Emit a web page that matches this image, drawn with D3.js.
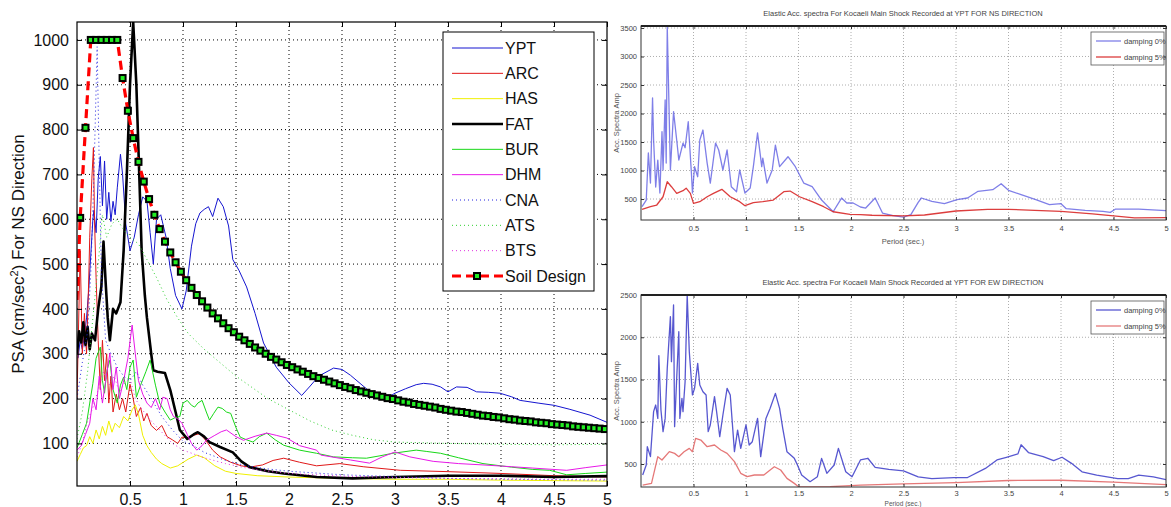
<!DOCTYPE html>
<html>
<head>
<meta charset="utf-8">
<script src="https://cdn.jsdelivr.net/npm/d3@7"></script>
<style>
  body { margin: 0; background: #fff; }
  svg { display: block; font-family: "Liberation Sans", Arial, sans-serif; }
</style>
</head>
<body>
<div id="chart"></div>
<script>
// ---- datos: espectro NS por estacion [periodo (s), PSA] ----
var yptNS = [[0.01,290],[0.03,330],[0.05,310],[0.07,340],[0.09,380],[0.11,440],[0.13,520],[0.15,600],[0.16,620],[0.18,570],[0.2,690],[0.22,740],[0.24,630],[0.26,730],[0.28,600],[0.3,660],[0.32,595],[0.34,640],[0.36,610],[0.38,670],[0.41,745],[0.43,700],[0.46,590],[0.5,530],[0.54,560],[0.58,610],[0.62,650],[0.66,640],[0.69,570],[0.72,500],[0.75,600],[0.79,610],[0.84,560],[0.88,490],[0.93,430],[0.99,400],[1.03,440],[1.08,540],[1.12,590],[1.16,614],[1.2,622],[1.24,628],[1.28,606],[1.33,647],[1.38,628],[1.43,585],[1.47,510],[1.53,485],[1.6,449],[1.68,390],[1.76,324],[1.88,270],[2.0,235],[2.12,207],[2.2,228],[2.28,250],[2.42,268],[2.5,265],[2.58,252],[2.67,234],[2.78,212],[2.86,201],[2.95,205],[3.0,212],[3.1,222],[3.2,231],[3.27,234],[3.35,232],[3.43,226],[3.5,215],[3.58,226],[3.68,225],[3.77,215],[3.88,214],[3.99,212],[4.1,204],[4.18,196],[4.35,190],[4.5,185],[4.65,176],[4.84,163],[5.0,147]];
var arcNS = [[0.0,200],[0.02,420],[0.03,530],[0.05,300],[0.07,390],[0.09,300],[0.11,460],[0.12,560],[0.14,690],[0.155,760],[0.165,600],[0.18,470],[0.2,330],[0.22,220],[0.24,330],[0.26,240],[0.28,300],[0.3,190],[0.32,250],[0.34,170],[0.37,210],[0.4,175],[0.43,200],[0.46,170],[0.5,232],[0.53,200],[0.56,160],[0.6,180],[0.63,150],[0.66,167],[0.7,140],[0.75,129],[0.8,140],[0.85,115],[0.9,108],[0.95,100],[0.99,114],[1.05,112],[1.1,118],[1.16,122],[1.22,105],[1.28,85],[1.35,70],[1.45,58],[1.55,50],[1.63,47],[1.75,52],[1.85,62],[1.95,67],[2.1,58],[2.26,50],[2.48,55],[2.7,48],[3.05,40],[3.5,37],[4.0,33],[4.5,28],[5.0,25]];
var hasNS = [[0.0,60],[0.03,75],[0.06,90],[0.09,95],[0.12,115],[0.15,100],[0.18,130],[0.21,110],[0.24,138],[0.27,118],[0.3,150],[0.33,125],[0.36,145],[0.4,135],[0.44,160],[0.48,150],[0.52,175],[0.55,186],[0.58,165],[0.62,118],[0.66,95],[0.7,80],[0.75,65],[0.8,55],[0.88,45],[0.95,50],[1.05,65],[1.13,74],[1.2,68],[1.3,50],[1.4,38],[1.5,33],[1.7,28],[2.0,25],[2.5,22],[3.0,20],[3.5,20],[4.0,18],[4.5,17],[5.0,16]];
var fatNS = [[0.0,300],[0.02,350],[0.04,325],[0.06,370],[0.08,320],[0.1,360],[0.12,310],[0.14,345],[0.17,330],[0.2,400],[0.23,450],[0.25,550],[0.27,460],[0.29,380],[0.31,330],[0.34,400],[0.37,390],[0.41,415],[0.44,530],[0.47,700],[0.5,900],[0.53,1040],[0.56,900],[0.59,680],[0.61,530],[0.64,430],[0.66,380],[0.7,300],[0.72,263],[0.76,260],[0.83,257],[0.88,219],[0.93,170],[0.97,130],[1.04,110],[1.1,120],[1.14,125],[1.2,115],[1.25,103],[1.35,92],[1.47,80],[1.55,60],[1.63,47],[1.8,38],[1.95,33],[2.26,25],[2.6,22],[3.0,25],[3.5,28],[4.0,28],[4.5,25],[5.0,27]];
var burNS = [[0.0,90],[0.05,120],[0.09,145],[0.12,190],[0.15,234],[0.18,290],[0.22,315],[0.24,240],[0.26,212],[0.28,260],[0.31,286],[0.34,220],[0.38,190],[0.41,230],[0.44,248],[0.47,220],[0.5,270],[0.53,286],[0.56,203],[0.6,230],[0.65,260],[0.69,286],[0.74,230],[0.78,190],[0.83,170],[0.88,152],[0.93,158],[0.97,160],[1.0,190],[1.04,196],[1.08,185],[1.11,181],[1.14,190],[1.18,196],[1.22,170],[1.25,152],[1.29,167],[1.33,181],[1.37,178],[1.41,170],[1.45,167],[1.5,135],[1.54,114],[1.6,108],[1.66,103],[1.72,115],[1.79,123],[1.87,108],[1.95,96],[2.1,85],[2.26,78],[2.42,70],[2.6,68],[2.73,67],[2.85,72],[2.98,78],[3.2,85],[3.3,82],[3.43,78],[3.6,68],[3.83,55],[4.1,47],[4.3,42],[4.46,40],[4.62,30],[4.8,33],[5.0,36]];
var dhmNS = [[0.0,85],[0.04,95],[0.08,120],[0.12,145],[0.15,200],[0.18,175],[0.21,250],[0.24,190],[0.27,240],[0.31,301],[0.34,220],[0.37,270],[0.4,200],[0.44,240],[0.48,290],[0.52,364],[0.55,300],[0.58,240],[0.62,210],[0.66,190],[0.7,180],[0.74,200],[0.78,175],[0.81,203],[0.85,200],[0.88,175],[0.91,160],[0.95,155],[0.99,145],[1.04,120],[1.08,100],[1.13,85],[1.18,95],[1.22,107],[1.3,118],[1.36,126],[1.41,130],[1.5,115],[1.57,107],[1.68,116],[1.79,123],[1.88,118],[1.98,112],[2.1,95],[2.26,85],[2.3,74],[2.45,68],[2.58,63],[2.76,56],[2.88,70],[3.0,81],[3.14,70],[3.36,60],[3.6,55],[3.83,52],[4.1,48],[4.3,45],[4.62,40],[4.8,46],[5.0,52]];
var cnaNS = [[0.0,200],[0.05,280],[0.1,350],[0.13,480],[0.16,700],[0.19,985],[0.21,720],[0.23,480],[0.27,330],[0.32,300],[0.38,270],[0.44,250],[0.5,240],[0.56,260],[0.62,230],[0.7,200],[0.8,160],[0.9,130],[1.0,105],[1.1,95],[1.2,80],[1.4,62],[1.6,50],[1.8,43],[2.0,38],[2.5,30],[3.0,26],[3.5,22],[4.0,20],[4.5,19],[5.0,18]];
var atsNS = [[0.0,110],[0.05,170],[0.1,260],[0.15,380],[0.2,500],[0.24,610],[0.28,560],[0.33,590],[0.38,600],[0.43,580],[0.5,560],[0.58,545],[0.66,510],[0.75,470],[0.85,420],[0.95,380],[1.05,345],[1.2,310],[1.35,280],[1.5,250],[1.65,225],[1.8,200],[2.0,175],[2.2,150],[2.4,130],[2.6,118],[2.8,108],[3.0,103],[3.5,100],[4.0,98],[4.5,97],[5.0,98]];
var btsNS = [[0.0,70],[0.05,100],[0.1,150],[0.15,180],[0.2,220],[0.25,260],[0.3,230],[0.35,250],[0.4,215],[0.45,235],[0.5,245],[0.55,200],[0.6,180],[0.7,150],[0.8,125],[0.9,100],[1.0,85],[1.2,68],[1.4,55],[1.6,45],[1.8,38],[2.0,33],[2.5,27],[3.0,24],[3.5,22],[4.0,21],[4.5,20],[5.0,20]];
// espectro de diseno (suelo)
var soilDesign = [[0,420],[0.03,603],[0.08,804],[0.13,1000],[0.18,1000],[0.23,1000],[0.28,1000],[0.33,1000],[0.38,1000],[0.43,915],[0.48,842],[0.53,781],[0.58,728],[0.63,684],[0.68,645],[0.73,610],[0.78,578],[0.83,550],[0.88,526],[0.93,504],[0.98,483],[1.03,464],[1.08,447],[1.13,431],[1.18,417],[1.23,403],[1.28,390],[1.33,379],[1.38,368],[1.43,357],[1.48,348],[1.53,338],[1.58,330],[1.63,322],[1.68,314],[1.73,307],[1.78,300],[1.83,293],[1.88,287],[1.93,281],[1.98,275],[2.03,270],[2.08,265],[2.13,260],[2.18,255],[2.23,250],[2.28,246],[2.33,242],[2.38,238],[2.43,234],[2.48,230],[2.53,226],[2.58,223],[2.63,219],[2.68,216],[2.73,213],[2.78,210],[2.83,207],[2.88,204],[2.93,201],[2.98,199],[3.03,196],[3.08,193],[3.13,191],[3.18,188],[3.23,186],[3.28,184],[3.33,182],[3.38,180],[3.43,177],[3.48,175],[3.53,173],[3.58,171],[3.63,170],[3.68,168],[3.73,166],[3.78,164],[3.83,162],[3.88,161],[3.93,159],[3.98,158],[4.03,156],[4.08,154],[4.13,153],[4.18,151],[4.23,150],[4.28,149],[4.33,147],[4.38,146],[4.43,145],[4.48,143],[4.53,142],[4.58,141],[4.63,140],[4.68,138],[4.73,137],[4.78,136],[4.83,135],[4.88,134],[4.93,133],[4.98,132]];

// ---- datos: YPT, amortiguamiento 0% y 5% ----
var ypt0NS = [[0.01,365],[0.05,482],[0.07,1307],[0.09,780],[0.11,2272],[0.12,1535],[0.14,710],[0.16,1184],[0.18,605],[0.2,1680],[0.21,1009],[0.23,2237],[0.24,1131],[0.25,3523],[0.28,1009],[0.31,2032],[0.34,1535],[0.36,1184],[0.4,1482],[0.42,1400],[0.45,1856],[0.48,956],[0.49,605],[0.51,1067],[0.54,891],[0.56,1535],[0.59,1710],[0.63,1131],[0.66,780],[0.71,1482],[0.74,1360],[0.78,1009],[0.82,1360],[0.86,716],[0.91,628],[0.94,1009],[0.99,605],[1.04,693],[1.07,1067],[1.11,1658],[1.15,1067],[1.16,1219],[1.2,780],[1.25,1010],[1.28,1447],[1.32,1067],[1.4,1242],[1.47,1067],[1.55,780],[1.63,716],[1.72,482],[1.83,277],[1.91,517],[1.96,430],[2.02,430],[2.09,360],[2.14,342],[2.23,518],[2.3,254],[2.4,207],[2.5,184],[2.57,225],[2.64,442],[2.67,518],[2.77,460],[2.89,418],[3.01,488],[3.11,518],[3.21,635],[3.35,664],[3.43,769],[3.5,652],[3.62,576],[3.76,488],[3.89,400],[4.0,418],[4.05,330],[4.23,301],[4.4,283],[4.47,266],[4.52,324],[4.74,324],[5.0,295]];
var ypt5NS = [[0.01,319],[0.09,365],[0.15,395],[0.21,540],[0.25,803],[0.29,716],[0.34,600],[0.4,646],[0.43,690],[0.47,600],[0.5,424],[0.56,453],[0.63,540],[0.69,600],[0.77,670],[0.85,540],[0.94,453],[0.99,383],[1.07,436],[1.16,453],[1.26,482],[1.36,628],[1.42,640],[1.51,540],[1.63,453],[1.74,365],[1.83,277],[1.99,231],[2.09,225],[2.2,215],[2.5,205],[2.7,220],[3.0,290],[3.3,320],[3.5,320],[3.75,300],[4.0,282],[4.3,240],[4.5,205],[4.7,170],[5.0,175]];
var ypt0EW = [[0.016,370],[0.05,488],[0.06,705],[0.09,587],[0.12,1120],[0.14,1198],[0.16,1040],[0.17,1782],[0.19,1139],[0.21,883],[0.23,1040],[0.25,1632],[0.28,2244],[0.29,1711],[0.31,2382],[0.32,942],[0.34,1514],[0.36,2066],[0.37,1040],[0.39,1277],[0.4,1119],[0.42,1474],[0.44,2500],[0.46,1829],[0.49,1317],[0.51,1395],[0.54,1691],[0.56,1435],[0.59,1356],[0.62,1317],[0.64,883],[0.66,962],[0.7,1297],[0.72,1119],[0.75,823],[0.78,1080],[0.82,1395],[0.85,1317],[0.89,646],[0.92,902],[0.95,685],[1.0,962],[1.03,725],[1.06,764],[1.11,1040],[1.14,587],[1.19,1040],[1.23,1159],[1.28,1336],[1.32,1159],[1.35,922],[1.39,646],[1.46,567],[1.49,488],[1.53,370],[1.61,291],[1.68,350],[1.72,567],[1.77,390],[1.84,488],[1.88,685],[1.95,409],[2.01,350],[2.09,548],[2.16,568],[2.23,460],[2.36,436],[2.5,420],[2.64,348],[2.77,328],[2.98,340],[3.11,340],[3.28,448],[3.39,548],[3.48,580],[3.59,620],[3.62,728],[3.69,636],[3.83,588],[3.93,540],[4.01,580],[4.1,508],[4.2,408],[4.34,368],[4.54,328],[4.64,328],[4.74,368],[4.88,348],[5.0,316]];
var ypt5EW = [[0.016,250],[0.1,271],[0.16,587],[0.2,547],[0.27,646],[0.32,626],[0.36,587],[0.41,646],[0.46,685],[0.49,646],[0.52,804],[0.57,784],[0.63,705],[0.7,725],[0.76,666],[0.82,626],[0.89,528],[0.95,390],[1.01,350],[1.08,370],[1.17,370],[1.23,429],[1.27,468],[1.33,429],[1.39,330],[1.46,271],[1.5,232],[1.55,230],[1.8,232],[2.09,250],[2.5,265],[3.0,280],[3.5,305],[4.0,308],[4.5,285],[5.0,255]];

var periodTicks = [0.5, 1, 1.5, 2, 2.5, 3, 3.5, 4, 4.5, 5];
var psaTicks = [100, 200, 300, 400, 500, 600, 700, 800, 900, 1000];
var ampTicksNS = [500, 1000, 1500, 2000, 2500, 3000, 3500];
var ampTicksEW = [500, 1000, 1500, 2000, 2500];

var stations = [
  {name: "YPT", data: yptNS, color: "#1515d0", width: 1, dash: null},
  {name: "ARC", data: arcNS, color: "#e01818", width: 1, dash: null},
  {name: "HAS", data: hasNS, color: "#f0f000", width: 1, dash: null},
  {name: "FAT", data: fatNS, color: "#000000", width: 2.6, dash: null},
  {name: "BUR", data: burNS, color: "#18d818", width: 1, dash: null},
  {name: "DHM", data: dhmNS, color: "#e818e8", width: 1, dash: null},
  {name: "CNA", data: cnaNS, color: "#2020e0", width: 1, dash: "1,3"},
  {name: "ATS", data: atsNS, color: "#30d030", width: 1, dash: "1,3"},
  {name: "BTS", data: btsNS, color: "#e030e0", width: 1, dash: "1,3"}
];

var fmtInt = d3.format("d");

var svg = d3.select("#chart").append("svg")
  .attr("width", 1171)
  .attr("height", 507);

/* ---------- grafica izquierda ---------- */
var L = {x0: 77, x1: 607, y0: 22, y1: 486};
var xL = d3.scaleLinear().domain([0, 5]).range([L.x0, L.x1]);
var yL = d3.scaleLinear().domain([5, 1040]).range([L.y1, L.y0]);

svg.append("clipPath").attr("id", "clipL")
  .append("rect").attr("x", L.x0).attr("y", L.y0)
  .attr("width", L.x1 - L.x0).attr("height", L.y1 - L.y0);

var gl = svg.append("g");

// rejilla punteada
gl.append("g").selectAll("line")
  .data(periodTicks.slice(0, -1)).enter().append("line")
  .attr("x1", d => xL(d)).attr("x2", d => xL(d))
  .attr("y1", L.y0).attr("y2", L.y1)
  .attr("stroke", "#000").attr("stroke-dasharray", "1,3").attr("stroke-width", 1);
gl.append("g").selectAll("line")
  .data(psaTicks).enter().append("line")
  .attr("x1", L.x0).attr("x2", L.x1)
  .attr("y1", d => yL(d)).attr("y2", d => yL(d))
  .attr("stroke", "#000").attr("stroke-dasharray", "1,3").attr("stroke-width", 1);

var lineL = d3.line().x(d => xL(d[0])).y(d => yL(d[1]));

var lines = gl.append("g").attr("clip-path", "url(#clipL)");
lines.selectAll("path")
  .data(stations).enter().append("path")
  .attr("d", d => lineL(d.data))
  .attr("fill", "none")
  .attr("stroke", d => d.color)
  .attr("stroke-width", d => d.width)
  .attr("stroke-dasharray", d => d.dash)
  .attr("stroke-linejoin", "round");

// espectro de diseno
lines.append("path")
  .attr("d", lineL(soilDesign))
  .attr("fill", "none")
  .attr("stroke", "#ff0000")
  .attr("stroke-width", 3.2)
  .attr("stroke-dasharray", "9,5");
lines.append("g").selectAll("rect")
  .data(soilDesign.slice(1)).enter().append("rect")
  .attr("x", d => xL(d[0]) - 3).attr("y", d => yL(d[1]) - 3)
  .attr("width", 6).attr("height", 6)
  .attr("fill", "#22ee22").attr("stroke", "#000").attr("stroke-width", 2);

// ejes
var xAxisB = d3.axisBottom(xL).tickValues(periodTicks).tickSizeInner(-5).tickSizeOuter(0).tickPadding(8).tickFormat(d3.format("~g"));
var xAxisT = d3.axisTop(xL).tickValues(periodTicks).tickSizeInner(-5).tickSizeOuter(0).tickFormat("");
var yAxisL = d3.axisLeft(yL).tickValues(psaTicks).tickSizeInner(-5).tickSizeOuter(0).tickPadding(8).tickFormat(fmtInt);
var yAxisR = d3.axisRight(yL).tickValues(psaTicks).tickSizeInner(-5).tickSizeOuter(0).tickFormat("");

[[xAxisB, `translate(0,${L.y1})`], [xAxisT, `translate(0,${L.y0})`],
 [yAxisL, `translate(${L.x0},0)`], [yAxisR, `translate(${L.x1},0)`]].forEach(function (a) {
  var g = gl.append("g").attr("transform", a[1]).call(a[0]);
  g.select(".domain").remove();
  g.selectAll("text").attr("font-size", "16px").attr("fill", "#111")
    .attr("font-family", "'Liberation Sans', Arial, sans-serif");
});

gl.append("rect")
  .attr("x", L.x0).attr("y", L.y0)
  .attr("width", L.x1 - L.x0).attr("height", L.y1 - L.y0)
  .attr("fill", "none").attr("stroke", "#000").attr("stroke-width", 1.2);

// titulo eje y
var ylab = gl.append("text")
  .attr("transform", "translate(24,254) rotate(-90)")
  .attr("text-anchor", "middle")
  .attr("font-size", "17px")
  .attr("fill", "#111");
ylab.append("tspan").text("PSA (cm/sec");
ylab.append("tspan").attr("dy", -6).attr("font-size", "11px").text("2");
ylab.append("tspan").attr("dy", 6).text(") For NS Direction");

// leyenda
var leg = gl.append("g");
leg.append("rect")
  .attr("x", 443).attr("y", 32).attr("width", 151).attr("height", 259)
  .attr("fill", "#fff").attr("stroke", "#000").attr("stroke-width", 1);
var legItems = stations.concat([{name: "Soil Design", soil: true}]);
var legY = d3.scaleLinear().domain([0, 9]).range([48, 276]);
var items = leg.selectAll("g.item")
  .data(legItems).enter().append("g")
  .attr("class", "item")
  .attr("transform", (d, i) => `translate(0,${legY(i)})`);
items.append("line")
  .attr("x1", 452).attr("x2", 503).attr("y1", 0).attr("y2", 0)
  .attr("stroke", d => d.soil ? "#ff0000" : d.color)
  .attr("stroke-width", d => d.soil ? 3.2 : d.width)
  .attr("stroke-dasharray", d => d.soil ? "9,5" : d.dash);
items.filter(d => d.soil).append("rect")
  .attr("x", 474).attr("y", -3).attr("width", 6).attr("height", 6)
  .attr("fill", "#22ee22").attr("stroke", "#000").attr("stroke-width", 2);
items.append("text")
  .attr("x", 505).attr("y", 0).attr("dy", "0.36em")
  .attr("font-size", "16px").attr("fill", "#111")
  .text(d => d.name);

/* ---------- graficas pequenas derecha ---------- */
function smallChart(o) {
  var x = d3.scaleLinear().domain([0, 5]).range([641, 1166]);
  var y = d3.scaleLinear().domain(o.yDomain).range([o.y1, o.y0]);
  var g = svg.append("g");
  var id = "clip" + o.id;

  g.append("clipPath").attr("id", id)
    .append("rect").attr("x", 641).attr("y", o.y0).attr("width", 525).attr("height", o.y1 - o.y0);

  // rejilla
  g.append("g").selectAll("line").data(periodTicks.slice(0, -1)).enter().append("line")
    .attr("x1", d => x(d)).attr("x2", d => x(d)).attr("y1", o.y0).attr("y2", o.y1)
    .attr("stroke", "#999").attr("stroke-dasharray", "1,2").attr("stroke-width", 0.8);
  g.append("g").selectAll("line").data(o.yTicks).enter().append("line")
    .attr("x1", 641).attr("x2", 1166).attr("y1", d => y(d)).attr("y2", d => y(d))
    .attr("stroke", "#999").attr("stroke-dasharray", "1,2").attr("stroke-width", 0.8);

  var line = d3.line().x(d => x(d[0])).y(d => y(d[1]));
  var cg = g.append("g").attr("clip-path", `url(#${id})`);
  o.series.forEach(function (s) {
    cg.append("path").attr("d", line(s.data))
      .attr("fill", "none").attr("stroke", s.color)
      .attr("stroke-width", 1.3).attr("stroke-opacity", s.opacity)
      .attr("stroke-linejoin", "round");
  });

  var ax = [
    [d3.axisBottom(x).tickValues(periodTicks).tickSizeInner(-3).tickSizeOuter(0).tickPadding(o.xPad).tickFormat(d3.format("~g")), `translate(0,${o.y1})`],
    [d3.axisTop(x).tickValues(periodTicks).tickSizeInner(-3).tickSizeOuter(0).tickFormat(""), `translate(0,${o.y0})`],
    [d3.axisLeft(y).tickValues(o.yTicks).tickSizeInner(-3).tickSizeOuter(0).tickPadding(4).tickFormat(fmtInt), "translate(641,0)"],
    [d3.axisRight(y).tickValues(o.yTicks).tickSizeInner(-3).tickSizeOuter(0).tickFormat(""), "translate(1166,0)"]
  ];
  ax.forEach(function (a) {
    var ga = g.append("g").attr("transform", a[1]).call(a[0]);
    ga.select(".domain").remove();
    ga.selectAll("line").attr("stroke", "#333");
    ga.selectAll("text").attr("font-size", "7.5px").attr("fill", "#444")
      .attr("font-family", "'Liberation Sans', Arial, sans-serif");
  });

  g.append("rect").attr("x", 641).attr("y", o.y0).attr("width", 525).attr("height", o.y1 - o.y0)
    .attr("fill", "none").attr("stroke", "#333").attr("stroke-width", 1);
  g.append("line").attr("x1", 641).attr("x2", 1166).attr("y1", o.y0).attr("y2", o.y0)
    .attr("stroke", "#222").attr("stroke-width", 1.8);

  g.append("text").attr("x", 903).attr("y", o.y0 - 10)
    .attr("text-anchor", "middle").attr("font-size", "7.5px").attr("fill", "#444")
    .text(o.title);
  g.append("text").attr("transform", `translate(619,${(o.y0 + o.y1) / 2}) rotate(-90)`)
    .attr("text-anchor", "middle").attr("font-size", "7.5px").attr("fill", "#555")
    .text("Acc. Spectra Amp");
  g.append("text").attr("x", 903).attr("y", o.labelY)
    .attr("text-anchor", "middle").attr("font-size", o.labelSize).attr("fill", "#555")
    .text("Period (sec.)");

  // leyenda
  var lg = g.append("g").attr("transform", `translate(1091,${o.y0 + 6})`);
  lg.append("rect").attr("width", 73).attr("height", 33)
    .attr("fill", "#fff").attr("stroke", "#555").attr("stroke-width", 0.8);
  o.series.forEach(function (s, i) {
    var yy = 9 + i * 16;
    lg.append("line").attr("x1", 5).attr("x2", 30).attr("y1", yy).attr("y2", yy)
      .attr("stroke", s.color).attr("stroke-width", 1.3).attr("stroke-opacity", s.opacity);
    lg.append("text").attr("x", 33).attr("y", yy).attr("dy", "0.35em")
      .attr("font-size", "7.5px").attr("fill", "#444").text(s.name);
  });
}

smallChart({
  id: "NS", y0: 26, y1: 220, yDomain: [132, 3535], yTicks: ampTicksNS,
  xPad: 6, labelY: 244, labelSize: "7.5px",
  title: "Elastic Acc.  spectra For Kocaeli Main Shock Recorded at YPT FOR NS DIRECTION",
  series: [
    {name: "damping 0%", data: ypt0NS, color: "#5454e0", opacity: 0.75},
    {name: "damping 5%", data: ypt5NS, color: "#d82828", opacity: 0.9}
  ]
});
smallChart({
  id: "EW", y0: 295, y1: 487, yDomain: [228, 2500], yTicks: ampTicksEW,
  xPad: 4, labelY: 505.5, labelSize: "6.5px",
  title: "Elastic Acc.  spectra For Kocaeli Main Shock Recorded at YPT FOR EW DIRECTION",
  series: [
    {name: "damping 0%", data: ypt0EW, color: "#3a3ac8", opacity: 0.85},
    {name: "damping 5%", data: ypt5EW, color: "#e06060", opacity: 0.85}
  ]
});
</script>
</body>
</html>
